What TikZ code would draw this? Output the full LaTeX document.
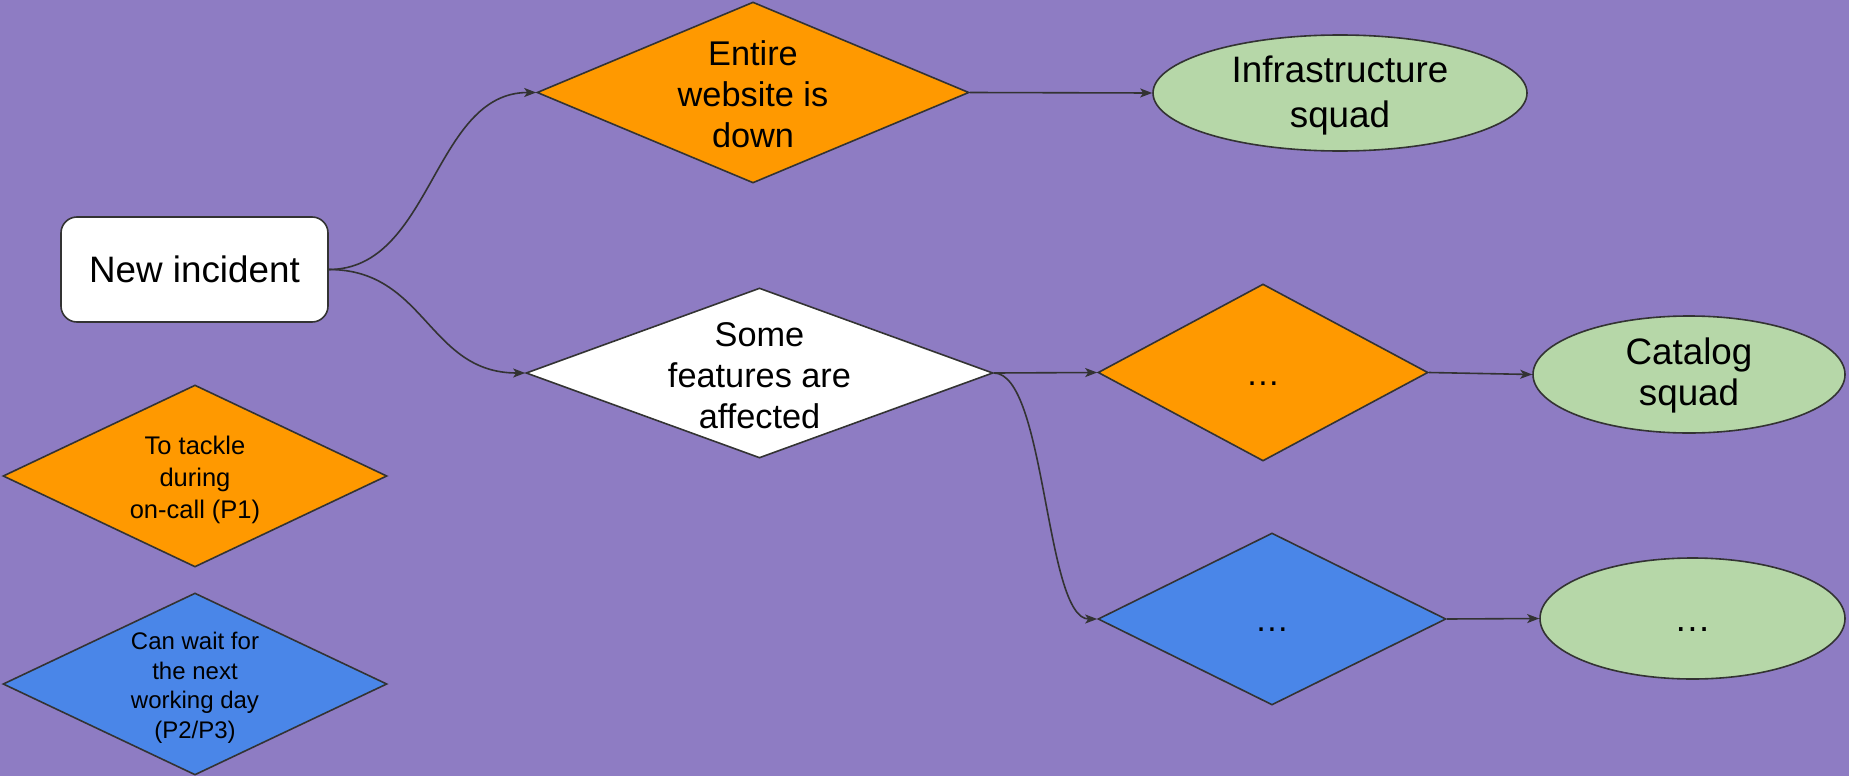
\documentclass[tikz,border=0pt]{standalone}
\usepackage{fontspec}
\setmainfont{Liberation Sans}
\usetikzlibrary{shapes.geometric,arrows.meta}
\definecolor{bg}{HTML}{8E7CC3}
\definecolor{org}{HTML}{FF9900}
\definecolor{blu}{HTML}{4A86E8}
\definecolor{grn}{HTML}{B6D7A8}
\definecolor{edgec}{HTML}{333333}
\begin{document}
\begin{tikzpicture}[x=1pt,y=-1pt,
 shp/.style={draw=edgec, line width=1.6pt, inner sep=0pt},
 dia/.style={shp, diamond},
 ell/.style={shp, ellipse},
 dtxt/.style={align=center, font=\fontsize{34.3}{41}\selectfont, inner sep=0pt},
 etxt/.style={align=center, font=\fontsize{36.8}{41}\selectfont, inner sep=0pt},
 dots/.style={inner sep=0pt, text height=25pt, text depth=0pt},
 leg1/.style={align=center, font=\fontsize{25.5}{32}\selectfont, inner sep=0pt},
 leg2/.style={align=center, font=\fontsize{24}{29.5}\selectfont, inner sep=0pt},
 arr/.style={draw=edgec, line width=1.6pt, -{Stealth[length=12pt,width=9pt,inset=3pt]}}
]
\fill[bg] (0,0) rectangle (1849,776);
\useasboundingbox (0,0) rectangle (1849,776);

\node[shp, fill=white, rounded corners=16pt, minimum width=267pt, minimum height=105pt, font=\fontsize{36.8}{41}\selectfont] (ni) at (194.5,269.5) {New incident};

\node[dia, fill=org, minimum width=432pt, minimum height=181pt] (d1) at (753,92.5) {};
\node[dtxt] (d1t) at ([yshift=-1.7pt]d1) {Entire\\website is\\down};

\node[ell, fill=grn, minimum width=374pt, minimum height=116pt] (inf) at (1340,93) {};
\node[etxt, font=\fontsize{36.8}{45}\selectfont] (inft) at ([yshift=-2.9pt]inf) {Infrastructure\\squad};

\node[dia, fill=white, minimum width=467pt, minimum height=170pt] (d2) at (759.5,373) {};
\node[dtxt] (d2t) at ([yshift=-2.4pt]d2) {Some\\features are\\affected};

\node[dia, fill=org, minimum width=330pt, minimum height=177pt] (d3) at (1263,372.5) {};
\node[dtxt, dots] (d3t) at (d3) {…};

\node[ell, fill=grn, minimum width=312pt, minimum height=117pt] (cat) at (1689,374.5) {};
\node[etxt] (catt) at ([yshift=-0.7pt]cat) {Catalog\\squad};

\node[dia, fill=blu, minimum width=348pt, minimum height=172pt] (d4) at (1272,619) {};
\node[dtxt, dots] (d4t) at (d4) {…};

\node[ell, fill=grn, minimum width=305pt, minimum height=121pt] (e3) at (1692.5,618.5) {};
\node[etxt, dots] (e3t) at (e3) {…};

\node[dia, fill=org, minimum width=384pt, minimum height=182pt] (l1) at (195,476) {};
\node[leg1] (l1t) at ([yshift=-3.5pt]l1) {To tackle\\during\\on-call (P1)};

\node[dia, fill=blu, minimum width=384pt, minimum height=182pt] (l2) at (195,684) {};
\node[leg2] (l2t) at ([yshift=-4pt]l2) {Can wait for\\the next\\working day\\(P2/P3)};

\draw[arr] (ni.east) to[out=0,in=180,looseness=0.97] (d1.west);
\draw[arr] (ni.east) to[out=0,in=180,looseness=1.12] (d2.west);
\draw[arr] (d1.east) -- (inf.west);
\draw[arr] (d2.east) -- (d3.west);
\draw[arr] (d2.east) to[out=0,in=180,looseness=0.5] (d4.west);
\draw[arr] (d3.east) -- (cat.west);
\draw[arr] (d4.east) -- (e3.west);
\end{tikzpicture}
\end{document}
